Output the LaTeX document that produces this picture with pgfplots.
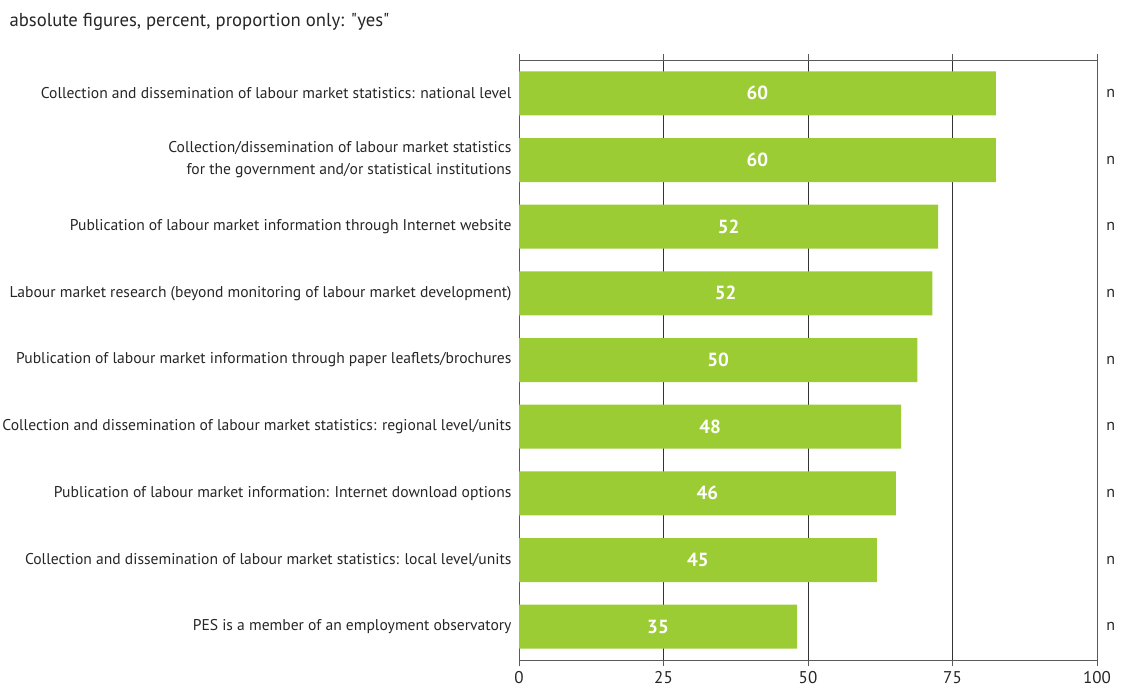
\documentclass[border=0pt]{standalone}
\usepackage{fontspec}
\setmainfont{PT Sans}
\usepackage{pgfplots}
\usepackage{pgfplotstable}
\pgfplotsset{compat=1.18}
\definecolor{bargreen}{RGB}{155,204,52}
\definecolor{axgray}{RGB}{90,90,90}
\pgfplotstableread{
y pct n
0 82.5 60
1 82.5 60
2 72.5 52
3 71.5 52
4 68.9 50
5 66.1 48
6 65.2 46
7 61.9 45
8 48.1 35
}\datatab
\begin{document}
\begin{tikzpicture}
\useasboundingbox (0,0) rectangle (1123pt,691pt);
\node[anchor=west,font=\fontsize{18.7}{20}\selectfont,text=black!85] at (6pt,669pt) {absolute figures, percent, proportion only: \textquotedbl yes\textquotedbl};
\begin{axis}[
  at={(519pt,31pt)}, anchor=south west,
  scale only axis, width=578pt, height=600pt,
  xmin=0, xmax=100, ymin=-0.5, ymax=8.5, y dir=reverse,
  xbar, bar width=44pt,
  xtick={0,25,50,75,100},
  xtick align=outside, major tick length=6pt,
  xmajorgrids, grid style={black!80, line width=0.6pt},
  axis line style={axgray, line width=0.8pt},
  xtick style={axgray, line width=0.8pt},
  ytick={0,...,8},
  ytick style={draw=none},
  yticklabels={
    {Collection and dissemination of labour market statistics: national level},
    {Collection/dissemination of labour market statistics\\for the government and/or statistical institutions},
    {Publication of labour market information through Internet website},
    {Labour market research (beyond monitoring of labour market development)},
    {Publication of labour market information through paper leaflets/brochures},
    {Collection and dissemination of labour market statistics: regional level/units},
    {Publication of labour market information: Internet download options},
    {Collection and dissemination of labour market statistics: local level/units},
    {PES is a member of an employment observatory}},
  yticklabel style={align=right, font=\fontsize{15.6}{22}\selectfont, text=black!85, xshift=2pt},
  xticklabel style={font=\fontsize{17}{19}\selectfont, text=black!85, yshift=-2pt},
  /pgf/number format/assume math mode=true,
  clip=false,
]
\addplot[fill=bargreen, draw=none] table[x=pct, y=y] {\datatab};
\addplot[only marks, mark=none, nodes near coords, point meta=explicit symbolic,
  nodes near coords style={anchor=center, text=white, font=\fontsize{19}{21}\selectfont\bfseries}]
  table[x expr=\thisrow{pct}/2, y=y, meta=n] {\datatab};
\pgfplotsinvokeforeach{0,...,8}{
  \node[anchor=west, font=\fontsize{16}{18}\selectfont, text=black!85] at (axis cs:101.0,#1) {n};
}
\end{axis}
\end{tikzpicture}
\end{document}
